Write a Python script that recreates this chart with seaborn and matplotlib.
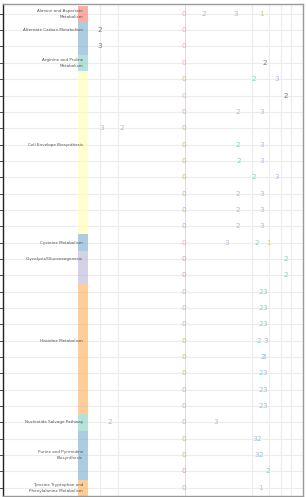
import numpy as np
import matplotlib
matplotlib.use('Agg')
import matplotlib.pyplot as plt
import seaborn as sns

# row groups (category, number of rows, colour)
groups = ['Alanine and Aspartate\nMetabolism', 'Alternate Carbon Metabolism',
          'Arginine and Proline\nMetabolism', 'Cell Envelope Biosynthesis',
          'Cysteine Metabolism', 'Glycolysis/Gluconeogenesis', 'Histidine Metabolism',
          'Nucleotide Salvage Pathway', 'Purine and Pyrimidine\nBiosynthesis',
          'Tyrosine Tryptophan and\nPhenylalanine Metabolism']
group_sizes = [1, 2, 1, 10, 1, 2, 8, 1, 3, 1]
group_colors = ['#fb8072', '#80b1d3', '#8dd3c7', '#ffffb3', '#80b1d3',
                '#bebada', '#fdb462', '#8dd3c7', '#80b1d3', '#fdb462']

# annotations: row, x position, label, colour key
ann_row = [0, 0, 0, 0,
           1, 1,
           2, 2,
           3, 3,
           4, 4, 4,
           5, 5,
           6, 6, 6,
           7, 7, 7,
           8, 8, 8,
           9, 9, 9,
           10, 10, 10,
           11, 11, 11,
           12, 12, 12,
           13, 13, 13,
           14, 14, 14, 14,
           15, 15,
           16, 16,
           17, 17, 17,
           18, 18, 18,
           19, 19, 19,
           20, 20, 20,
           21, 21, 21,
           22, 22, 22,
           23, 23, 23,
           24, 24, 24,
           25, 25, 25,
           26, 26, 26,
           27, 27, 27,
           28, 28,
           29, 29]
ann_x = [181, 201, 233, 259,
         97, 181,
         97, 181,
         181, 262,
         181, 251, 274,
         181, 283,
         181, 235, 259,
         99, 119, 181,
         181, 235, 259,
         181, 236, 259,
         181, 251, 274,
         181, 235, 259,
         181, 235, 259,
         181, 235, 259,
         181, 224, 254, 266,
         181, 283,
         181, 283,
         181, 258, 262,
         181, 258, 262,
         181, 258, 262,
         181, 256, 263,
         181, 260, 261,
         181, 258, 262,
         181, 258, 262,
         181, 258, 262,
         107, 181, 213,
         181, 252, 256,
         181, 254, 258,
         181, 265,
         181, 258]
ann_text = ['0', '2', '3', '1',
            '2', '0',
            '3', '0',
            '0', '2',
            '0', '2', '3',
            '0', '2',
            '0', '2', '3',
            '3', '2', '0',
            '0', '2', '3',
            '0', '2', '3',
            '0', '2', '3',
            '0', '2', '3',
            '0', '2', '3',
            '0', '2', '3',
            '0', '3', '2', '1',
            '0', '2',
            '0', '2',
            '0', '2', '3',
            '0', '2', '3',
            '0', '2', '3',
            '0', '2', '3',
            '0', '2', '3',
            '0', '2', '3',
            '0', '2', '3',
            '0', '2', '3',
            '2', '0', '3',
            '0', '3', '2',
            '0', '3', '2',
            '0', '2',
            '0', '1']
ann_kind = ['zp', 'g', 'l', 'y',
            'k', 'zp',
            'k', 'zp',
            'zp', 'k',
            'zo', 'g', 'l',
            'zp', 'k',
            'zo', 'g', 'l',
            'l', 'g', 'zo',
            'zo', 'g', 'l',
            'zo', 'g', 'l',
            'zo', 'g', 'l',
            'zo', 'g', 'l',
            'zo', 'g', 'l',
            'zo', 'g', 'l',
            'zp', 'l', 'g', 'y',
            'zm', 'g',
            'zm', 'g',
            'zo', 'g', 'l',
            'zo', 'g', 'l',
            'zo', 'g', 'l',
            'zo', 'g', 'l',
            'zo', 'g', 'l',
            'zo', 'g', 'l',
            'zo', 'g', 'l',
            'zo', 'g', 'l',
            'g', 'zo', 'l',
            'zo', 'l', 'g',
            'zo', 'l', 'g',
            'zm', 'g',
            'zo', 'y']
kind_colors = {'zp': '#f2a9b6', 'zo': '#c9b976', 'zm': '#c9a3b3',
               'g': '#7fd3bf', 'l': '#b9b5df', 'y': '#d6cc6a', 'k': '#7a7a7a'}

grid_x = [97, 115, 249, 266, 278, 288]

sns.set_style('whitegrid')
fig = plt.figure(figsize=(3.06, 4.97), dpi=100)
ax = fig.add_axes([0.0098, 0.002, 0.980, 0.990])

n_rows = sum(group_sizes)
row_colors = []
for c, s in zip(group_colors, group_sizes):
    row_colors += [c] * s
ax.barh(np.arange(n_rows), width=10, left=75, height=1.0, color=row_colors,
        alpha=0.65, linewidth=0, zorder=2)

start = 0
for g, s in zip(groups, group_sizes):
    ax.text(80, start + (s - 1) // 2, g, ha='right', va='center', fontsize=3.0,
            color='#555555', linespacing=1.5, zorder=3)
    start += s

for r, x, t, k in zip(ann_row, ann_x, ann_text, ann_kind):
    ax.text(x, r, t, ha='center', va='center', fontsize=5.2,
            color=kind_colors[k], zorder=4)

ax.axvline(182, color='#f6d6dc', lw=0.8, zorder=1)
ax.set_xlim(0, 300)
ax.set_ylim(n_rows - 0.5, -0.6)
ax.set_xticks(grid_x)
ax.set_xticklabels([])
ax.set_yticks(np.arange(n_rows))
ax.set_yticklabels([])
ax.grid(True, color='#ececec', lw=0.8)
ax.tick_params(axis='y', left=True, length=3, width=0.6, color='#333333')
ax.tick_params(axis='x', bottom=False)
for side in ['top', 'right', 'bottom']:
    ax.spines[side].set_color('#999999')
    ax.spines[side].set_linewidth(1.0)
ax.spines['left'].set_color('#222222')
ax.spines['left'].set_linewidth(1.0)

fig.savefig('out.png', dpi=100)
